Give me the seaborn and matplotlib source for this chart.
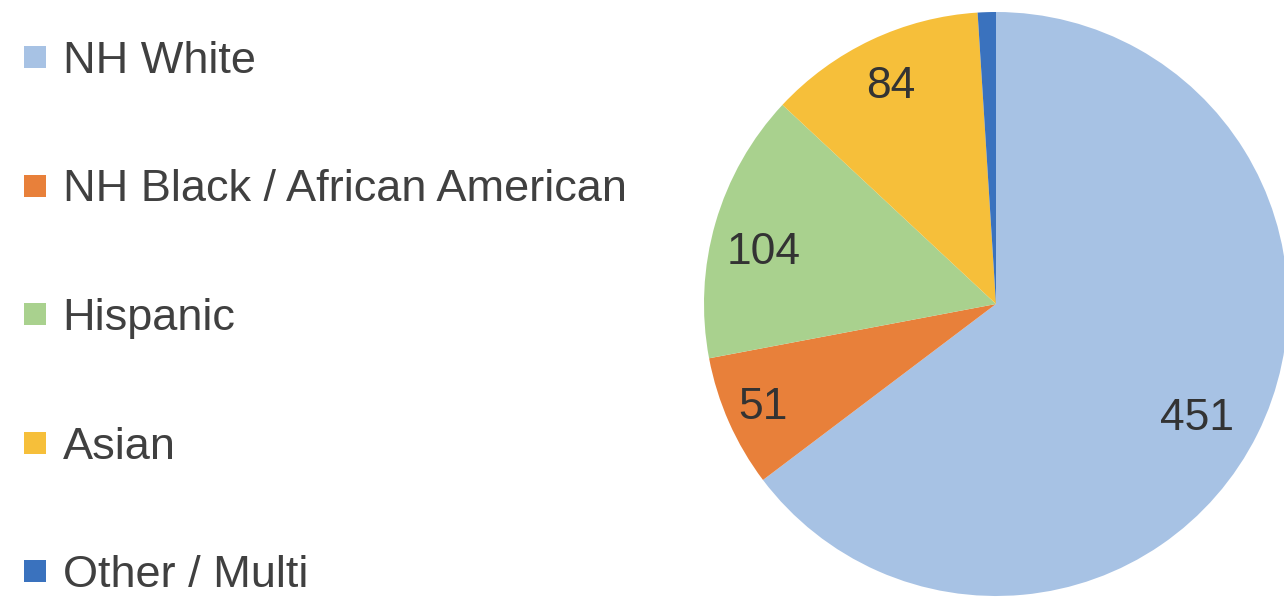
import matplotlib
matplotlib.use("Agg")
import matplotlib.pyplot as plt
from matplotlib.lines import Line2D
import numpy as np
import seaborn as sns

# Race / ethnicity breakdown
categories = ["NH White", "NH Black / African American", "Hispanic", "Asian", "Other / Multi"]
counts = [451, 51, 104, 84, 7]
show_label = [True, True, True, True, False]

colors = ["#A7C2E4", "#E8803A", "#A9D18E", "#F6BF3A", "#3A72BE"]
# Data-label placement: fraction of the radius and angular nudge (degrees)
label_radius = [0.786, 0.866, 0.82, 0.84, 0.8]
label_nudge = [-2.3, -0.9, 2.5, 0.0, 0.0]

sns.set_theme(style="white")
plt.rcParams["font.family"] = ["Liberation Sans", "DejaVu Sans"]

W, H = 1284, 601
fig = plt.figure(figsize=(W / 100, H / 100), dpi=100)
ax = fig.add_axes([0, 0, 1, 1])

cx, cy, r = 996, 297, 292
wedges, _ = ax.pie(
    counts,
    colors=colors,
    startangle=90,
    counterclock=False,
    center=(cx, cy),
    radius=r,
    wedgeprops=dict(linewidth=0),
    frame=True,
)
ax.set_xlim(0, W)
ax.set_ylim(0, H)
ax.set_aspect("equal")
ax.axis("off")

for w, n, show, d, nudge in zip(wedges, counts, show_label, label_radius, label_nudge):
    if not show:
        continue
    mid = np.deg2rad((w.theta1 + w.theta2) / 2 + nudge)
    ax.text(cx + d * r * np.cos(mid), cy + d * r * np.sin(mid), f"{n}",
            ha="center", va="center_baseline", fontsize=32, color="#333333")

handles = [Line2D([], [], marker="s", linestyle="none", markersize=16.5,
                  markerfacecolor=c, markeredgewidth=0) for c in colors]
leg = fig.legend(handles, categories, loc="center left",
                 bbox_to_anchor=(0.0179, 0.470), frameon=False,
                 fontsize=32.5, labelspacing=1.94, handlelength=0.54,
                 handletextpad=0.34, borderpad=0, borderaxespad=0)
for t in leg.get_texts():
    t.set_color("#404040")

fig.savefig("out.png", dpi=100, facecolor="white")
